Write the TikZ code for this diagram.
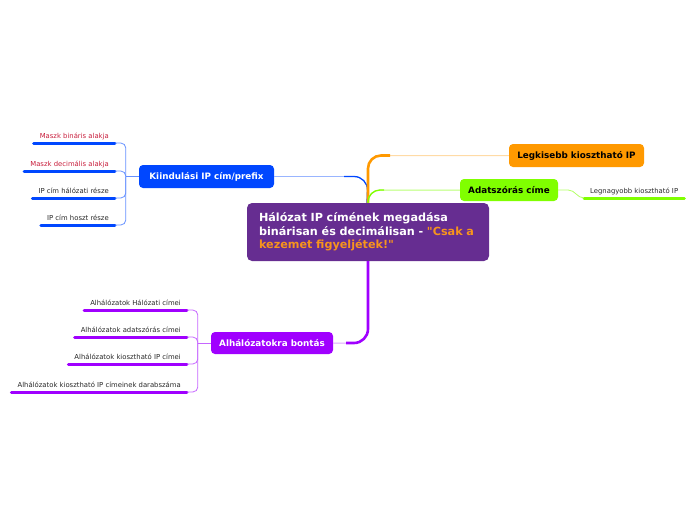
\documentclass[tikz,border=0pt]{standalone}
\usepackage{fontspec}
\setmainfont{DejaVu Sans}
\newfontfamily\rawfont{DejaVu Sans}
\usetikzlibrary{calc}
\definecolor{cpurple}{RGB}{102,45,145}
\definecolor{corange}{RGB}{255,153,0}
\definecolor{ctxtorange}{RGB}{247,148,29}
\definecolor{cblue}{RGB}{0,71,255}
\definecolor{cgreen}{RGB}{128,255,0}
\definecolor{cviolet}{RGB}{160,0,255}
\definecolor{cred}{RGB}{200,30,60}
\definecolor{ctext}{RGB}{40,40,40}
\newcommand{\sq}{{\rawfont\bfseries "}}
\begin{document}
\begin{tikzpicture}[x=1pt,y=-1pt,
  mainbox/.style={fill=cpurple, rounded corners=5pt, minimum width=242pt, minimum height=58pt,
    inner xsep=12pt, text width=218pt, align=left, text=white,
    font=\fontsize{11.2}{13.5}\selectfont\bfseries},
  topic/.style={rounded corners=4pt, font=\fontsize{8.8}{10}\selectfont\bfseries,
    inner sep=0pt, minimum height=23pt},
  leaf/.style={inner xsep=6pt, inner ysep=3pt, text height=5.5pt, text depth=1.5pt,
    font=\fontsize{6.85}{8}\selectfont, text=ctext},
  bar/.style={line width=3pt, line cap=round, #1},
  thinlink/.style={line width=0.8pt, #1},
  trunk/.style={line width=2.6pt, #1}
]
\useasboundingbox (0,0) rectangle (696,520);

% main node
\node[mainbox] (center) at (368,232) {Hálózat IP címének megadása\\
binárisan és decimálisan - \textcolor{ctxtorange}{\sq Csak a\\ kezemet figyeljétek!\sq}};

% topic nodes
\node[topic, fill=cblue, text=white, minimum width=135pt] (kiin) at (206.5,176.5) {Kiindulási IP cím/prefix};
\node[topic, fill=corange, text=black, minimum width=135pt] (legk) at (576.5,155.5) {Legkisebb kiosztható IP};
\node[topic, fill=cgreen, text=black, minimum width=98pt, minimum height=22pt] (adat) at (509,190) {Adatszórás címe};
\node[topic, fill=cviolet, text=white, minimum width=122pt, minimum height=22pt] (alh) at (272,343) {Alhálózatokra bontás};

% connectors from main node
\coordinate (bk) at (kiin.east -| center.north);
\draw[thinlink=cblue!40, line width=1pt] (kiin.east) -- ([xshift=-22pt]bk);
\draw[line width=1.3pt, cblue, rounded corners=14pt] ([xshift=-24pt]bk) -- (bk) -- ([xshift=-1pt]center.north);

\coordinate (ok) at (legk.west -| center.north);
\draw[line width=1pt, corange!35, rounded corners=13pt] (center.north) |- (legk.west);
\draw[trunk=corange, rounded corners=13pt] (center.north) -- (ok) -- ([xshift=22pt]ok);

\coordinate (gk) at (adat.west -| center.north);
\draw[line width=1pt, cgreen!55, rounded corners=12pt] (center.north) |- (adat.west);
\draw[line width=1.3pt, cgreen, rounded corners=12pt] (center.north) -- (gk) -- ([xshift=16pt]gk);

\coordinate (pk) at (alh.east -| center.south);
\draw[line width=1pt, cviolet!35, rounded corners=14pt] (center.south) |- (alh.east);
\draw[trunk=cviolet, rounded corners=14pt] (center.south) -- (pk) -- ([xshift=-22pt]pk);

% left leaves
\node[leaf, anchor=south east, text=cred] (k1) at (115,143) {Maszk bináris alakja};
\node[leaf, anchor=south east, text=cred] (k2) at (115,171) {Maszk decimális alakja};
\node[leaf, anchor=south east] (k3) at (115,198) {IP cím hálózati része};
\node[leaf, anchor=south east] (k4) at (115,225) {IP cím hoszt része};
\foreach \n in {k1,k2,k3,k4} \draw[bar=cblue] (\n.south west) -- (\n.south east);
\coordinate (kb) at ([xshift=-13pt]kiin.west);
\draw[thinlink=cblue!60, line width=1pt] (kiin.west) -- (kb);
\foreach \n in {k1,k2,k3,k4} \draw[thinlink=cblue!60, rounded corners=5pt] (kb) |- (\n.south east);

% right leaf
\node[leaf, anchor=south west] (r1) at (584,198) {Legnagyobb kiosztható IP};
\draw[bar=cgreen] (r1.south west) -- (r1.south east);
\draw[thinlink=cgreen!60] (adat.east) -- ++(10pt,0) to[out=0,in=180] (r1.south west);

% bottom leaves
\node[leaf, anchor=south east] (a1) at (187,310) {Alhálózatok Hálózati címei};
\node[leaf, anchor=south east] (a2) at (187,337) {Alhálózatok adatszórás címei};
\node[leaf, anchor=south east] (a3) at (187,364) {Alhálózatok kiosztható IP címei};
\node[leaf, anchor=south east] (a4) at (187,392) {Alhálózatok kiosztható IP címeinek darabszáma};
\foreach \n in {a1,a2,a3,a4} \draw[bar=cviolet] (\n.south west) -- (\n.south east);
\coordinate (ab) at ([xshift=-13pt]alh.west);
\draw[thinlink=cviolet!60, line width=1pt] (alh.west) -- (ab);
\foreach \n in {a1,a2,a3,a4} \draw[thinlink=cviolet!60, rounded corners=5pt] (ab) |- (\n.south east);
\end{tikzpicture}
\end{document}
